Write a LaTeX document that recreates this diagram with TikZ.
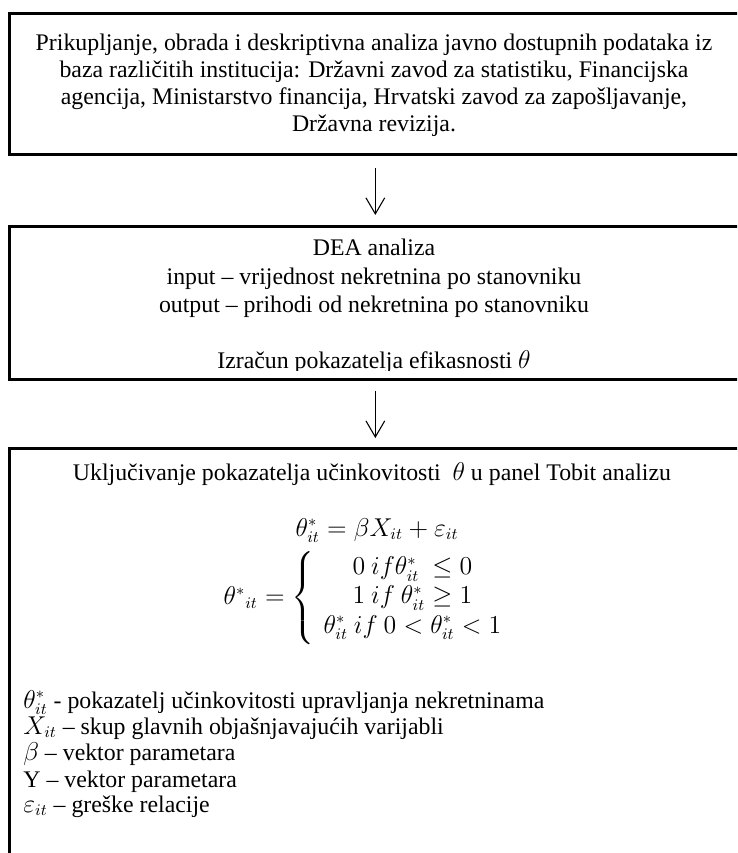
\documentclass[tikz,border=0pt]{standalone}
\usepackage{fontspec}
\setmainfont{Liberation Serif}
\usepackage{amsmath}
\usetikzlibrary{arrows.meta}
\begin{document}
\begin{tikzpicture}[x=0.5585pt,y=-0.5585pt,
  box/.style={draw,line width=1.5pt,rectangle,inner sep=0pt,anchor=north west,minimum width=411.6pt},
  txt/.style={inner sep=0pt,anchor=base,font=\fontsize{13.3}{15.1}\selectfont},
  ltxt/.style={inner sep=0pt,anchor=base west,font=\fontsize{13.3}{15.1}\selectfont},
  conn/.style={line width=0.6pt,-{Straight Barb[length=9pt,width=10.5pt,line width=0.6pt]}}]
\path[use as bounding box] (0,0) rectangle (737,853);
\clip (0,0) rectangle (737,853);
\fill[white] (0,0) rectangle (737,853);
% boxes
\node[box,minimum height=78.75pt] (b1) at (8,12) {};
\node[box,minimum height=85.4pt] (b2) at (8,225) {};
\node[box,minimum height=280pt] (b3) at (8,447) {};
% box 1 text
\node[txt] (t11) at (374,51) {Prikupljanje, obrada i deskriptivna analiza javno dostupnih podataka iz};
\node[txt] (t12) at (374,78) {baza različitih institucija: Državni zavod za statistiku, Financijska};
\node[txt] (t13) at (374,105) {agencija, Ministarstvo financija, Hrvatski zavod za zapošljavanje,};
\node[txt] (t14) at (374,132) {Državna revizija.};
% box 2 text
\node[txt] (t21) at (374,256) {DEA analiza};
\node[txt] (t22) at (374,285) {input -- vrijednost nekretnina po stanovniku};
\node[txt] (t23) at (374,312) {output -- prihodi od nekretnina po stanovniku};
\begin{scope}
\clip (8,225) rectangle (745,370);
\node[txt] (t24) at (374,368) {Izračun pokazatelja efikasnosti $\theta$};
\end{scope}
% box 3 text
\node[txt] (t31) at (372,480) {Uključivanje pokazatelja učinkovitosti\ \ $\theta$ u panel Tobit analizu};
\node[txt] (t32) at (377,536) {$\theta^*_{it}=\beta X_{it}+\varepsilon_{it}$};
\node[inner sep=0pt,anchor=center,font=\fontsize{13.3}{15.1}\selectfont] (t33) at (368,598)
  {$\theta^{*}{}_{it}=\left\{\renewcommand{\arraystretch}{1.08}\begin{array}{c}
   0\ if\theta^*_{it}\ \le 0\\
   1\ if\ \theta^*_{it}\ge 1\\
   \theta^*_{it}\ if\ 0<\theta^*_{it}<1
   \end{array}\right.$};
\node[ltxt] (l1) at (23,708) {$\theta^*_{it}$ - pokazatelj učinkovitosti upravljanja nekretninama};
\node[ltxt] (l2) at (23,734) {$X_{it}$ -- skup glavnih objašnjavajućih varijabli};
\node[ltxt] (l3) at (23,760) {$\beta$ -- vektor parametara};
\node[ltxt] (l4) at (23,787) {Y -- vektor parametara};
\node[ltxt] (l5) at (23,812) {$\varepsilon_{it}$ -- greške relacije};
% connectors
\draw[conn,shorten <=7pt,shorten >=5.6pt] ([xshift=-1.4pt]b1.south) -- ([xshift=-1.4pt]b2.north);
\draw[conn,shorten <=5.6pt,shorten >=5pt] ([xshift=-1.4pt]b2.south) -- ([xshift=-1.4pt]b3.north);
\end{tikzpicture}
\end{document}
